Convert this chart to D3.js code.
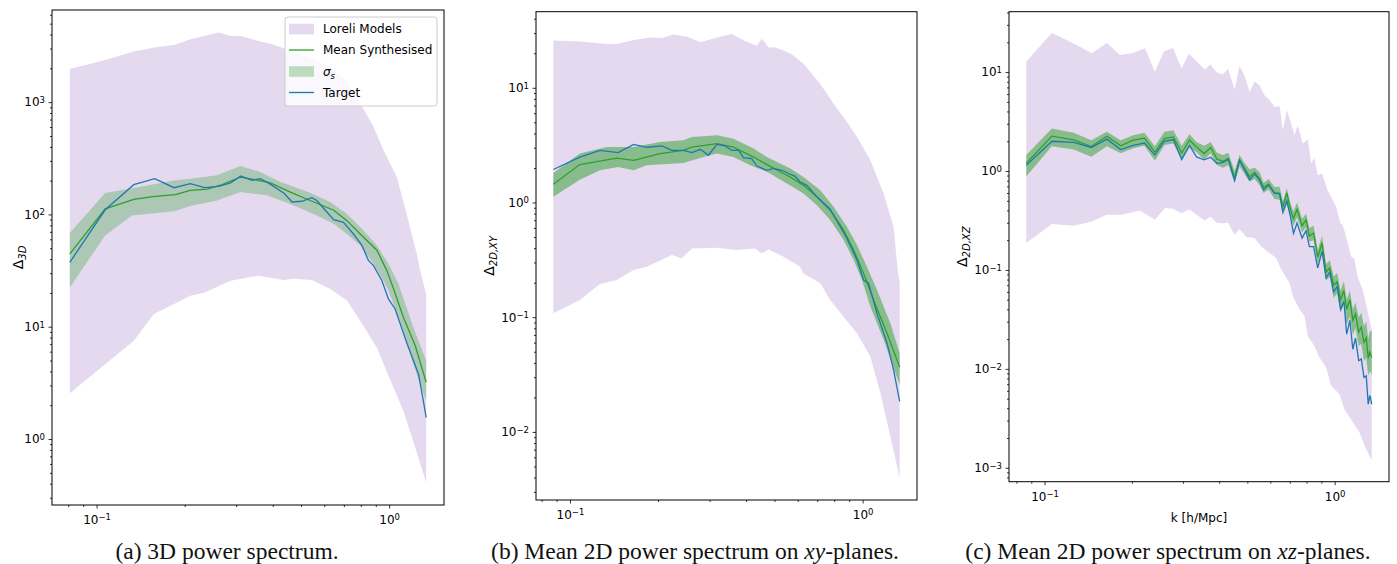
<!DOCTYPE html>
<html>
<head>
<meta charset="utf-8">
<script src="https://cdn.jsdelivr.net/npm/d3@7"></script>
<style>
  body { margin: 0; background: #fff; }
</style>
</head>
<body>
<svg id="fig" width="1397" height="564" font-family="DejaVu Sans, sans-serif"></svg>
<script>
// ---- (a) 3D power spectrum : [k, Delta] pairs ----
var a_loreliHi = [[0.081,1970],[0.107,2370],[0.134,2820],[0.161,3090],[0.186,3240],[0.209,3630],[0.234,3890],[0.261,4170],[0.287,3890],[0.311,3890],[0.362,3470],[0.393,3310],[0.459,2880],[0.537,2450],[0.621,2090],[0.698,1620],[0.796,977],[0.884,603],[0.956,372],[1.062,214],[1.148,100],[1.243,44.7],[1.276,31.6],[1.338,19.5]];
var a_loreliLo = [[0.081,2.56],[0.134,7.5],[0.157,13.0],[0.189,16.5],[0.209,18.9],[0.234,20.2],[0.287,25.7],[0.358,28.5],[0.436,26.1],[0.471,26.7],[0.544,26.1],[0.629,21.7],[0.717,17.1],[0.796,11.3],[0.908,6.5],[1.034,2.87],[1.119,1.78],[1.227,0.84],[1.338,0.41]];
var a_mean = [[0.081,44.6],[0.107,112],[0.134,136],[0.158,145],[0.186,150],[0.209,164],[0.239,168],[0.265,182],[0.310,215],[0.341,206],[0.393,191],[0.459,158],[0.537,133],[0.646,109],[0.717,88],[0.796,67],[0.908,48],[0.982,31.6],[1.021,24],[1.119,12.1],[1.227,6.8],[1.338,3.2]];
var a_sigHi = [[0.081,68.5],[0.107,155],[0.134,172],[0.184,201],[0.209,208],[0.258,223],[0.310,270],[0.362,239],[0.425,194],[0.537,156],[0.629,129],[0.717,101],[0.807,74.5],[0.908,52.8],[0.994,36.3],[1.076,24],[1.210,9.86],[1.338,4.97]];
var a_sigLo = [[0.081,22.4],[0.107,65],[0.132,98],[0.184,107],[0.209,119],[0.258,133],[0.310,158],[0.382,148],[0.459,124],[0.552,101],[0.646,82.6],[0.717,67],[0.796,52.8],[0.884,36.3],[0.956,25.8],[0.994,20.9],[1.090,11.3],[1.210,4.6],[1.338,2.18]];
var a_target = [[0.081,37.5],[0.107,110],[0.134,184],[0.158,208],[0.184,173],[0.209,188],[0.234,173],[0.261,178],[0.287,191],[0.311,220],[0.339,201],[0.362,208],[0.386,191],[0.436,155],[0.466,129],[0.503,131],[0.544,141],[0.566,133],[0.605,109],[0.646,90],[0.698,85],[0.755,67],[0.807,53],[0.849,39],[0.884,35],[0.944,25.8],[0.994,17.7],[1.048,14.4],[1.148,7.2],[1.259,3.8],[1.309,2.18],[1.338,1.55]];

// ---- (b) mean 2D power spectrum on xy-planes ----
var b_loreliHi = [[0.0877,25.8],[0.108,25.3],[0.1335,24.1],[0.1445,24.1],[0.165,26.1],[0.188,27.5],[0.206,27.2],[0.226,29.1],[0.251,27.9],[0.279,24.9],[0.318,27.5],[0.357,29.5],[0.397,25.4],[0.435,23.3],[0.453,26.7],[0.477,22.5],[0.503,22.5],[0.537,21.1],[0.574,19.5],[0.628,16.2],[0.717,10.8],[0.796,7.26],[0.884,5.02],[0.957,3.72],[1.063,2.33],[1.18,1.2],[1.276,0.614],[1.32,0.25],[1.339,0.2]];
var b_loreliLo = [[0.0877,0.108],[0.108,0.141],[0.1266,0.195],[0.1445,0.211],[0.165,0.258],[0.183,0.275],[0.223,0.348],[0.241,0.326],[0.261,0.398],[0.318,0.403],[0.372,0.385],[0.430,0.398],[0.453,0.36],[0.477,0.39],[0.537,0.336],[0.612,0.275],[0.628,0.241],[0.717,0.198],[0.775,0.141],[0.861,0.101],[0.957,0.0726],[1.063,0.0454],[1.15,0.0218],[1.244,0.00916],[1.339,0.00398]];
var b_mean = [[0.0877,1.44],[0.108,2.14],[0.1445,2.44],[0.165,2.33],[0.203,2.67],[0.244,2.85],[0.261,3.04],[0.318,3.26],[0.362,3.04],[0.424,2.49],[0.471,2.14],[0.566,1.67],[0.628,1.41],[0.698,1.12],[0.775,0.857],[0.861,0.574],[0.932,0.385],[1.008,0.241],[1.09,0.141],[1.212,0.0726],[1.339,0.0367]];
var b_sigHi = [[0.0877,1.81],[0.108,2.67],[0.1335,3.04],[0.165,3.04],[0.203,3.37],[0.244,3.48],[0.261,3.72],[0.318,3.85],[0.362,3.6],[0.424,2.95],[0.471,2.49],[0.566,1.98],[0.628,1.67],[0.717,1.28],[0.796,0.916],[0.884,0.614],[0.957,0.425],[1.035,0.275],[1.12,0.173],[1.244,0.0887],[1.339,0.0486]];
var b_sigLo = [[0.0877,1.12],[0.108,1.58],[0.1266,1.91],[0.146,2.04],[0.165,1.91],[0.183,2.11],[0.244,2.21],[0.286,2.49],[0.318,2.67],[0.362,2.49],[0.413,2.11],[0.471,1.85],[0.566,1.41],[0.628,1.2],[0.698,0.947],[0.775,0.702],[0.861,0.47],[0.932,0.315],[0.995,0.211],[1.063,0.124],[1.18,0.0635],[1.339,0.0258]];
var b_target = [[0.0877,1.94],[0.108,2.49],[0.1266,2.85],[0.146,2.72],[0.165,3.21],[0.183,3.03],[0.206,3.11],[0.223,2.85],[0.244,2.85],[0.261,2.72],[0.279,2.91],[0.297,2.58],[0.318,3.21],[0.339,3.11],[0.357,2.85],[0.377,2.85],[0.392,2.46],[0.418,2.41],[0.435,2.08],[0.471,1.91],[0.496,1.98],[0.53,1.91],[0.558,1.79],[0.588,1.69],[0.612,1.51],[0.645,1.41],[0.698,1.12],[0.775,0.874],[0.839,0.614],[0.884,0.486],[0.957,0.315],[1.008,0.211],[1.048,0.198],[1.12,0.108],[1.212,0.0594],[1.276,0.0348],[1.339,0.01845]];

// ---- (c) mean 2D power spectrum on xz-planes ----
var c_loreliHi = [[0.0865,12.8],[0.106,24.8],[0.126,19.5],[0.1456,15.5],[0.1638,19.7],[0.182,14.9],[0.202,15.6],[0.222,17.4],[0.240,10.1],[0.258,16.2],[0.2775,17.5],[0.2965,10.9],[0.315,15.3],[0.334,12.8],[0.357,10.6],[0.373,11.9],[0.391,9.98],[0.412,9.46],[0.429,10.8],[0.452,6.64],[0.470,11.5],[0.489,9.24],[0.509,6.28],[0.53,8.04],[0.551,7.33],[0.573,5.82],[0.596,5.26],[0.62,4.43],[0.646,4.51],[0.663,2.58],[0.684,4.11],[0.708,3.02],[0.727,2.3],[0.746,2.9],[0.776,1.9],[0.808,2.1],[0.830,1.2],[0.851,1.35],[0.874,0.9],[0.905,0.95],[0.946,0.63],[0.972,0.55],[1.011,0.437],[1.05,0.29],[1.063,0.29],[1.094,0.22],[1.139,0.137],[1.169,0.13],[1.2,0.085],[1.25,0.062],[1.29,0.042],[1.342,0.025]];
var c_loreliLo = [[0.0865,0.187],[0.106,0.291],[0.126,0.28],[0.1456,0.309],[0.1638,0.361],[0.1846,0.361],[0.2133,0.399],[0.240,0.321],[0.26,0.422],[0.2775,0.415],[0.2965,0.375],[0.315,0.41],[0.334,0.361],[0.3566,0.316],[0.373,0.347],[0.391,0.302],[0.412,0.294],[0.4286,0.302],[0.452,0.227],[0.470,0.259],[0.496,0.215],[0.53,0.21],[0.5585,0.173],[0.5963,0.148],[0.629,0.132],[0.655,0.101],[0.699,0.074],[0.7174,0.0543],[0.756,0.04],[0.787,0.0342],[0.808,0.0215],[0.851,0.0171],[0.886,0.013],[0.934,0.0104],[0.972,0.00676],[1.038,0.00557],[1.08,0.00394],[1.153,0.0029],[1.216,0.0023],[1.282,0.00156],[1.342,0.00119]];
var c_k      = [0.0865,0.106,0.126,0.145,0.164,0.183,0.202,0.221,0.24,0.259,0.278,0.297,0.316,0.334,0.355,0.374,0.393,0.412,0.43,0.452,0.47,0.49,0.509,0.53,0.551,0.569,0.592,0.62,0.646,0.663,0.684,0.704,0.721,0.742,0.772,0.797,0.818,0.846,0.874,0.905,0.934,0.962,0.992,1.02,1.048,1.076,1.1,1.128,1.155,1.18,1.21,1.235,1.262,1.285,1.305,1.322,1.342];
var c_mean   = [1.2,2.25,2.06,1.77,2.25,1.8,2.05,2.15,1.55,2.13,2.21,1.52,2.06,1.75,1.5,1.73,1.32,1.25,1.34,0.86,1.3,1.06,0.877,0.97,0.84,0.68,0.74,0.6,0.597,0.44,0.6,0.41,0.33,0.41,0.28,0.32,0.22,0.236,0.135,0.187,0.095,0.105,0.07,0.076,0.05,0.062,0.04,0.05,0.031,0.036,0.0235,0.0265,0.0185,0.0207,0.0128,0.0148,0.013];
var c_target = [1.14,2.0,1.95,1.73,2.1,1.65,1.82,1.92,1.45,2.0,2.08,1.31,1.81,1.39,1.3,1.38,1.19,1.22,1.31,0.8,1.28,1.02,0.815,0.93,0.81,0.64,0.72,0.597,0.587,0.385,0.5,0.347,0.234,0.298,0.21,0.25,0.172,0.172,0.105,0.154,0.083,0.095,0.06,0.068,0.04,0.048,0.0224,0.031,0.0158,0.0205,0.0121,0.0126,0.0082,0.0085,0.0044,0.0054,0.0044];
var c_sigHi  = [1.45,2.69,2.43,2.05,2.5,2.05,2.3,2.43,1.78,2.49,2.59,1.8,2.36,1.97,1.8,1.97,1.53,1.45,1.53,1.0,1.45,1.2,1.04,1.08,0.97,0.76,0.83,0.69,0.695,0.49,0.67,0.47,0.39,0.48,0.33,0.37,0.265,0.28,0.16,0.22,0.115,0.125,0.086,0.093,0.062,0.077,0.05,0.062,0.04,0.047,0.033,0.037,0.027,0.03,0.02,0.024,0.0242];
var c_sigLo  = [0.88,1.78,1.65,1.39,1.78,1.51,1.7,1.8,1.27,1.83,1.9,1.29,1.73,1.55,1.3,1.51,1.15,1.08,1.15,0.76,1.12,0.92,0.78,0.83,0.72,0.6,0.65,0.52,0.511,0.36,0.455,0.35,0.28,0.34,0.24,0.27,0.194,0.2,0.115,0.155,0.078,0.085,0.052,0.058,0.037,0.045,0.028,0.034,0.022,0.026,0.017,0.018,0.012,0.013,0.0085,0.0095,0.0087];

var legendLabels = ["Loreli Models", "Mean Synthesised", "σ", "Target"];

var colLoreli = "#9467bd", colMean = "#2ca02c", colTarget = "#1f77b4";

var svg = d3.select("#fig");

function pairs(ks, vs) { return ks.map(function (k, i) { return [k, vs[i]]; }); }

var panels = [
  { box: {l: 52, t: 10, r: 444, b: 505},
    loreliHi: a_loreliHi, loreliLo: a_loreliLo, mean: a_mean, sigHi: a_sigHi, sigLo: a_sigLo, target: a_target,
    sigAlpha: 0.3, ysub: "3D", ylabX: 18, legend: true },
  { box: {l: 536, t: 11.7, r: 917, b: 500},
    loreliHi: b_loreliHi, loreliLo: b_loreliLo, mean: b_mean, sigHi: b_sigHi, sigLo: b_sigLo, target: b_target,
    sigAlpha: 0.5, ysub: "2D,XY", ylabX: 489 },
  { box: {l: 1009, t: 11.7, r: 1389, b: 481.7},
    loreliHi: c_loreliHi, loreliLo: c_loreliLo, mean: pairs(c_k, c_mean), sigHi: pairs(c_k, c_sigHi), sigLo: pairs(c_k, c_sigLo), target: pairs(c_k, c_target),
    sigAlpha: 0.5, ysub: "2D,XZ", ylabX: 962, xlab: "k [h/Mpc]" }
];

// log extent with matplotlib's 5% margin
function logPad(vals) {
  var lo = Math.log10(d3.min(vals)), hi = Math.log10(d3.max(vals));
  var m = (hi - lo) * 0.05;
  return [Math.pow(10, lo - m), Math.pow(10, hi + m)];
}

function logTicks(dom, major) {
  var out = [];
  for (var e = Math.floor(Math.log10(dom[0])); e <= Math.ceil(Math.log10(dom[1])); e++) {
    for (var m = 1; m < 10; m++) {
      if (major !== (m === 1)) continue;
      var v = m * Math.pow(10, e);
      if (v >= dom[0] && v <= dom[1]) out.push(v);
    }
  }
  return out;
}

function expLabels(sel) {
  sel.each(function (d) {
    var t = d3.select(this), e = Math.round(Math.log10(d));
    t.text(null);
    t.append("tspan").text("10");
    t.append("tspan").attr("dy", "-0.42em").attr("font-size", "8.5px").text(e < 0 ? "\u2212" + (-e) : e);
  });
}

panels.forEach(function (p, pi) {
  var all = [].concat(p.loreliHi, p.loreliLo, p.mean, p.sigHi, p.sigLo, p.target);
  var x = d3.scaleLog().domain(logPad(all.map(function (d) { return d[0]; }))).range([p.box.l, p.box.r]);
  var y = d3.scaleLog().domain(logPad(all.map(function (d) { return d[1]; }))).range([p.box.b, p.box.t]);

  var g = svg.append("g");
  var clipId = "clip" + pi;
  g.append("clipPath").attr("id", clipId).append("rect")
    .attr("x", p.box.l).attr("y", p.box.t).attr("width", p.box.r - p.box.l).attr("height", p.box.b - p.box.t);
  var plot = g.append("g").attr("clip-path", "url(#" + clipId + ")");

  var line = d3.line().x(function (d) { return x(d[0]); }).y(function (d) { return y(d[1]); });
  function band(hi, lo) { return line(hi.concat(lo.slice().reverse())) + "Z"; }

  plot.append("path").attr("d", band(p.loreliHi, p.loreliLo))
    .attr("fill", colLoreli).attr("fill-opacity", 0.25);
  plot.append("path").attr("d", line(p.mean))
    .attr("fill", "none").attr("stroke", colMean).attr("stroke-width", 1.3);
  plot.append("path").attr("d", band(p.sigHi, p.sigLo))
    .attr("fill", colMean).attr("fill-opacity", p.sigAlpha);
  plot.append("path").attr("d", line(p.target))
    .attr("fill", "none").attr("stroke", colTarget).attr("stroke-width", 1.3);

  // axes: minor then major ticks
  var xd = x.domain(), yd = y.domain();
  var gxMinor = g.append("g").attr("transform", "translate(0," + p.box.b + ")")
    .call(d3.axisBottom(x).tickValues(logTicks(xd, false)).tickSize(2).tickFormat(""));
  var gxMajor = g.append("g").attr("transform", "translate(0," + p.box.b + ")")
    .call(d3.axisBottom(x).tickValues(logTicks(xd, true)).tickSize(3.5).tickPadding(7));
  var gyMinor = g.append("g").attr("transform", "translate(" + p.box.l + ",0)")
    .call(d3.axisLeft(y).tickValues(logTicks(yd, false)).tickSize(2).tickFormat(""));
  var gyMajor = g.append("g").attr("transform", "translate(" + p.box.l + ",0)")
    .call(d3.axisLeft(y).tickValues(logTicks(yd, true)).tickSize(3.5).tickPadding(3.5));

  [gxMinor, gxMajor, gyMinor, gyMajor].forEach(function (a) {
    a.select(".domain").remove();
    a.attr("font-family", null);
    a.selectAll("line").attr("stroke", "#000").attr("stroke-width", 0.8);
    a.selectAll("text").attr("font-size", 12).attr("fill", "#000");
  });
  gxMajor.selectAll(".tick text").call(expLabels);
  gyMajor.selectAll(".tick text").call(expLabels);

  g.append("rect").attr("x", p.box.l).attr("y", p.box.t)
    .attr("width", p.box.r - p.box.l).attr("height", p.box.b - p.box.t)
    .attr("fill", "none").attr("stroke", "#000").attr("stroke-width", 1);

  // y label  Delta_{...}
  var cy = (p.box.t + p.box.b) / 2;
  var yl = g.append("text").attr("transform", "translate(" + p.ylabX + "," + cy + ") rotate(-90)")
    .attr("text-anchor", "middle").attr("dy", "0.35em").attr("font-size", 14);
  yl.append("tspan").text("\u0394");
  yl.append("tspan").attr("dy", 3).attr("font-size", 10).attr("font-style", "italic").text(p.ysub);

  if (p.xlab) {
    g.append("text").attr("x", (p.box.l + p.box.r) / 2).attr("y", p.box.b + 40)
      .attr("text-anchor", "middle").attr("font-size", 12).text(p.xlab);
  }

  if (p.legend) {
    var lg = g.append("g").attr("transform", "translate(285,17)");
    lg.append("rect").attr("width", 152).attr("height", 89).attr("rx", 3)
      .attr("fill", "#fff").attr("fill-opacity", 0.8).attr("stroke", "#cccccc").attr("stroke-width", 1);
    var rowY = [12, 33, 54.5, 75.5];
    lg.append("rect").attr("x", 4).attr("y", rowY[0] - 5.3).attr("width", 25).attr("height", 10.6)
      .attr("fill", colLoreli).attr("fill-opacity", 0.25);
    lg.append("line").attr("x1", 4).attr("x2", 29).attr("y1", rowY[1]).attr("y2", rowY[1])
      .attr("stroke", colMean).attr("stroke-width", 1.3);
    lg.append("rect").attr("x", 4).attr("y", rowY[2] - 5.3).attr("width", 25).attr("height", 10.6)
      .attr("fill", colMean).attr("fill-opacity", 0.3);
    lg.append("line").attr("x1", 4).attr("x2", 29).attr("y1", rowY[3]).attr("y2", rowY[3])
      .attr("stroke", colTarget).attr("stroke-width", 1.3);
    legendLabels.forEach(function (lab, i) {
      var t = lg.append("text").attr("x", 38).attr("y", rowY[i]).attr("dy", "0.36em").attr("font-size", 12);
      if (i === 2) {
        t.append("tspan").attr("font-style", "italic").text(lab);
        t.append("tspan").attr("dy", 3).attr("font-size", 8.5).attr("font-style", "italic").text("s");
      } else {
        t.text(lab);
      }
    });
  }
});

// figure captions
var captions = [
  { x: 227, parts: [["(a) 3D power spectrum.", false]] },
  { x: 695, parts: [["(b) Mean 2D power spectrum on ", false], ["xy", true], ["-planes.", false]] },
  { x: 1168, parts: [["(c) Mean 2D power spectrum on ", false], ["xz", true], ["-planes.", false]] }
];
captions.forEach(function (c) {
  var t = svg.append("text").attr("x", c.x).attr("y", 559).attr("text-anchor", "middle")
    .style("font-family", "'Liberation Serif', 'Times New Roman', serif").attr("font-size", 23.5).attr("fill", "#111");
  c.parts.forEach(function (pt) {
    t.append("tspan").attr("font-style", pt[1] ? "italic" : "normal").text(pt[0]);
  });
});
</script>
</body>
</html>
